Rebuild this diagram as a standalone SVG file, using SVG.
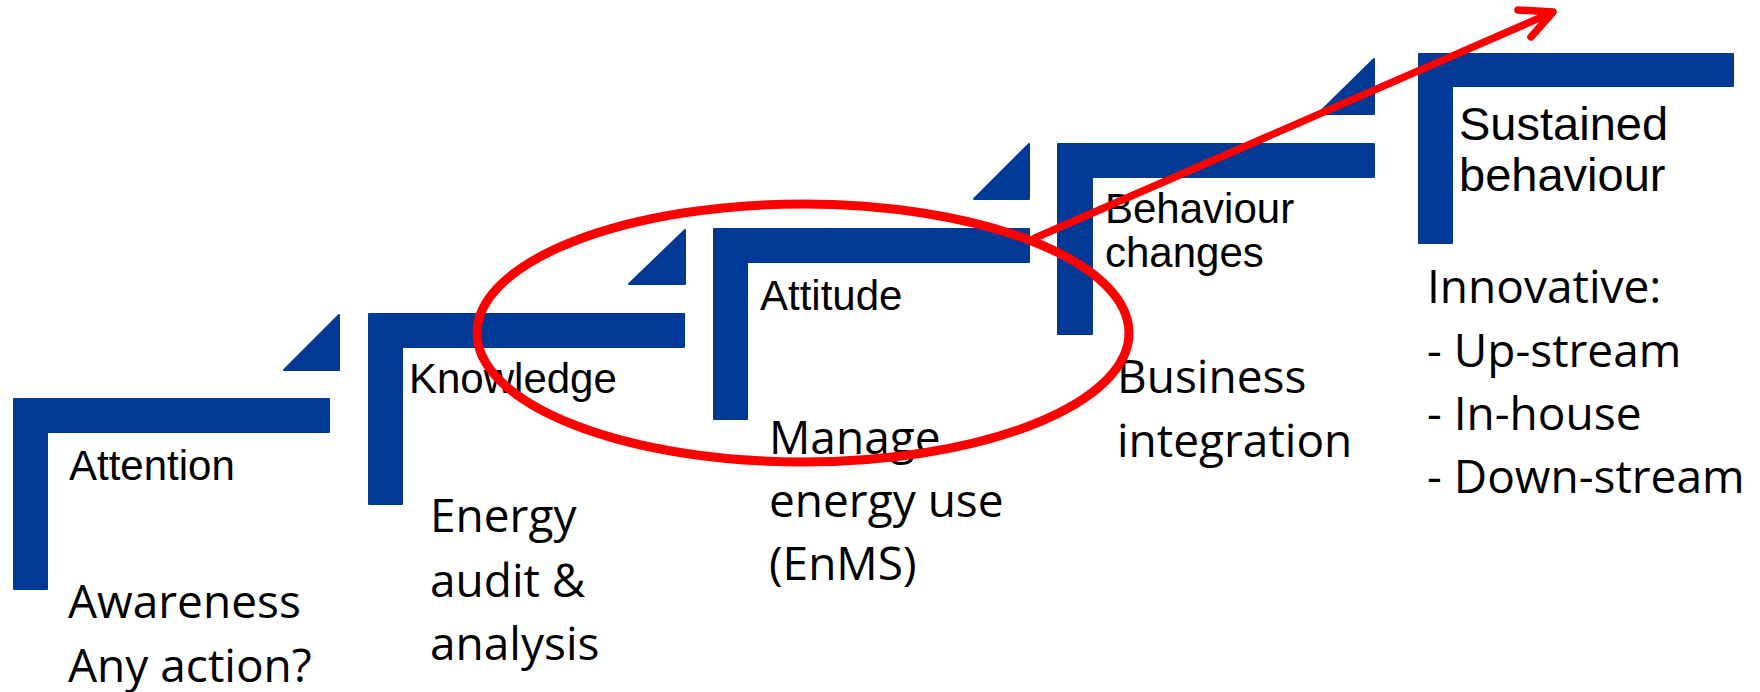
<svg xmlns="http://www.w3.org/2000/svg" width="1760" height="692" viewBox="0 0 1760 692">
<style>
.bar{fill:#003A96;stroke:#003A96;stroke-width:2;stroke-linejoin:round}
.lbl{font-family:"Liberation Sans",Arial,sans-serif;font-size:42px;fill:#000}
.big{font-family:"Open Sans","Noto Sans",sans-serif;font-size:46px;fill:#000}
.red{fill:none;stroke:#FF0000;stroke-linecap:round;stroke-linejoin:round}
</style>
<rect width="1760" height="692" fill="#fff"/>
<g id="step1">
<path class="bar" d="M14,399 H329 V432 H47 V589 H14 Z"/>
<path class="bar" d="M284,370 L339,315 V370 Z"/>
<text class="lbl" x="69" y="480">Attention</text>
<text class="big" x="68" y="618">Awareness</text>
<text class="big" x="68" y="682">Any action?</text>
</g>
<g id="step2">
<path class="bar" d="M369,314 H684 V347 H402 V504 H369 Z"/>
<path class="bar" d="M629,284 L685,230 V284 Z"/>
<text class="lbl" x="409" y="393">Knowledge</text>
<text class="big" x="430" y="532">Energy</text>
<text class="big" x="430" y="597">audit &amp;</text>
<text class="big" x="430" y="660">analysis</text>
</g>
<g id="step3">
<path class="bar" d="M714,229 H1029 V262 H747 V419 H714 Z"/>
<path class="bar" d="M974,199 L1029,144 V199 Z"/>
<text class="lbl" x="760" y="310">Attitude</text>
<text class="big" x="769" y="454">Manage</text>
<text class="big" x="769" y="517">energy use</text>
<text class="big" x="769" y="580">(EnMS)</text>
</g>
<g id="step4">
<path class="bar" d="M1058,144 H1374 V177 H1092 V334 H1058 Z"/>
<path class="bar" d="M1318,114 L1374,59 V114 Z"/>
<text class="lbl" x="1105" y="223">Behaviour</text>
<text class="lbl" x="1105" y="267">changes</text>
<text class="big" x="1117" y="393">Business</text>
<text class="big" x="1117" y="457">integration</text>
</g>
<g id="step5">
<path class="bar" d="M1419,54 H1733 V86 H1452 V243 H1419 Z"/>
<text class="lbl" x="1459" y="140" style="font-size:47px">Sustained</text>
<text class="lbl" x="1459" y="191" style="font-size:47px">behaviour</text>
<text class="big" x="1427" y="303">Innovative:</text>
<text class="big" x="1427" y="367">- Up-stream</text>
<text class="big" x="1427" y="430">- In-house</text>
<text class="big" x="1427" y="493">- Down-stream</text>
</g>
<g id="connectors">
<ellipse class="red" cx="803" cy="333" rx="326" ry="129" stroke-width="9"/>
<line class="red" x1="1035" y1="238" x2="1551" y2="13" stroke-width="7.5"/>
<polyline class="red" points="1518,10 1553,12 1531,37" stroke-width="7.5"/>
</g>
</svg>
